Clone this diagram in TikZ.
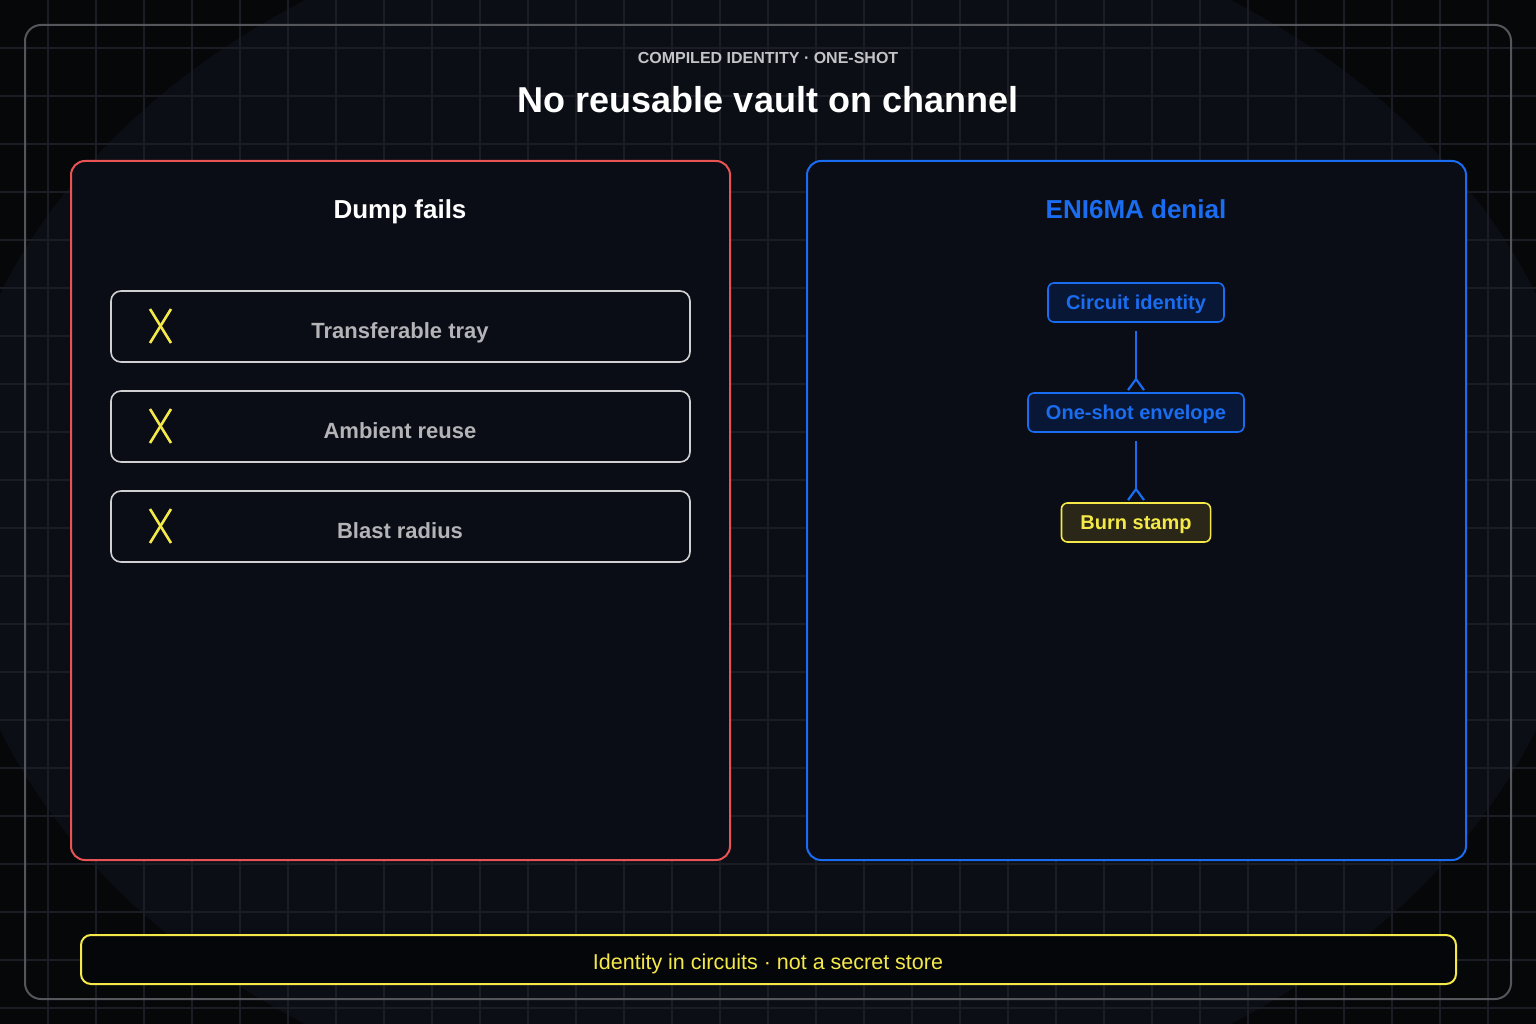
\documentclass[tikz,border=0pt]{standalone}
\usepackage{fontspec}
\setmainfont{Liberation Sans}
\usetikzlibrary{arrows.meta}
\definecolor{bgdark}{HTML}{060709}
\definecolor{bgglow}{HTML}{0B0E15}
\definecolor{gridc}{HTML}{1C1D24}
\definecolor{framec}{HTML}{55565C}
\definecolor{panelfill}{HTML}{0A0D15}
\definecolor{redc}{HTML}{E85454}
\definecolor{bluec}{HTML}{1A6CF0}
\definecolor{bluefill}{HTML}{081736}
\definecolor{yellowc}{HTML}{F5E94A}
\definecolor{yellowfill}{HTML}{2A2718}
\definecolor{itemc}{HTML}{D0D0D2}
\definecolor{itemtext}{HTML}{B4B4B8}
\definecolor{subc}{HTML}{C4C4C8}
\definecolor{footfill}{HTML}{05060A}
\tikzset{
  panel/.style={draw, line width=2pt, rounded corners=14pt, fill=panelfill},
  itembox/.style={draw=itemc, line width=1.6pt, rounded corners=10pt, fill=panelfill},
  itemlabel/.style={text=itemtext, font=\bfseries\fontsize{22}{26}\selectfont, anchor=base},
  xmark/.style={draw=yellowc, line width=2.6pt},
  bluenode/.style={draw=bluec, fill=bluefill, line width=1.6pt, rounded corners=6pt, text=bluec,
     font=\bfseries\fontsize{20}{23}\selectfont, inner xsep=18pt, minimum height=39pt, inner ysep=0pt,
     text height=16pt, text depth=1.6pt},
  yellownode/.style={draw=yellowc, fill=yellowfill, line width=1.6pt, rounded corners=6pt, text=yellowc,
     font=\bfseries\fontsize{20}{23}\selectfont, inner xsep=19pt, minimum height=39pt, inner ysep=0pt,
     text height=16pt, text depth=1.6pt},
  conn/.style={draw=bluec, line width=2.2pt, -{Straight Barb[reversed, length=11pt, width=16pt, line width=2.2pt]}, shorten >=1pt},
}
\begin{document}
\begin{tikzpicture}[x=1pt, y=-1pt]
\useasboundingbox (0,0) rectangle (1536,1024);
\fill[bgdark] (0,0) rectangle (1536,1024);
\fill[bgglow] (768,512) ellipse [x radius=820, y radius=620];
\foreach \i in {48,96,...,1535} \draw[gridc, line width=1.1pt] (\i,0) -- (\i,1024);
\foreach \j in {48,96,...,1023} \draw[gridc, line width=1.1pt] (0,\j) -- (1536,\j);
\draw[framec, line width=2pt, rounded corners=16pt] (25,25) rectangle (1511,999);

\node[text=subc, font=\bfseries\fontsize{16}{18}\selectfont, anchor=base] (sub) at (768,64) {COMPILED IDENTITY · ONE-SHOT};
\node[text=white, font=\bfseries\fontsize{36}{40}\selectfont, anchor=base] (title) at (768,113) {No reusable vault on channel};

% left panel
\draw[panel, draw=redc] (71,161) rectangle (730,860);
\node[text=white, font=\bfseries\fontsize{26}{30}\selectfont, anchor=base] (lt) at (400,219) {Dump fails};
\foreach \y/\t/\n in {326/Transferable tray/a, 426/Ambient reuse/b, 526/Blast radius/c}{
  \draw[itembox] (111,\y-35) rectangle (690,\y+36);
  \draw[xmark] (150,\y-17) -- (171,\y+17);
  \draw[xmark] (171,\y-17) -- (150,\y+17);
  \node[itemlabel] (item\n) at (400,\y+12) {\t};
}

% right panel
\draw[panel, draw=bluec] (807,161) rectangle (1466,860);
\node[text=bluec, font=\bfseries\fontsize{26}{30}\selectfont, anchor=base] (rt) at (1136,219) {ENI6MA denial};
\node[bluenode] (ci) at (1136,302.5) {Circuit identity};
\node[bluenode] (os) at (1136,412.5) {One-shot envelope};
\node[yellownode] (bs) at (1136,522.5) {Burn stamp};
\draw[conn] ([yshift=-8pt]ci.south) -- (os.north);
\draw[conn] ([yshift=-8pt]os.south) -- (bs.north);

% footer
\draw[draw=yellowc, fill=footfill, line width=2pt, rounded corners=10pt] (81,935) rectangle (1456,984);
\node[text=yellowc, font=\fontsize{21.5}{25}\selectfont, anchor=base] (foot) at (768,969.5) {Identity in circuits · not a secret store};
\end{tikzpicture}
\end{document}
